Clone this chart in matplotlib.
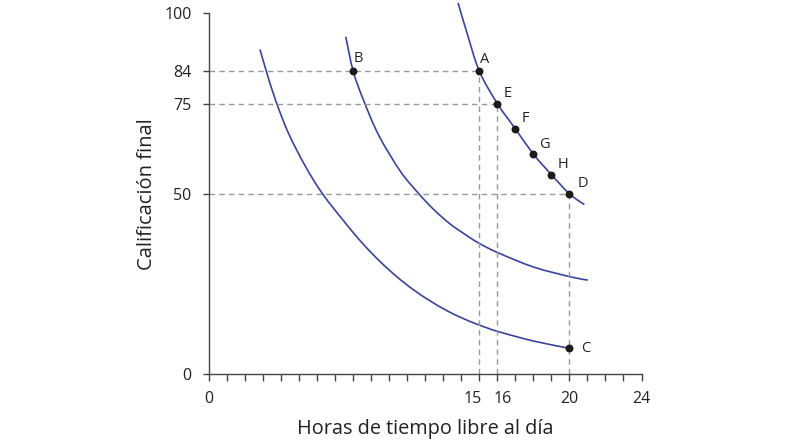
import matplotlib.pyplot as plt
from matplotlib.path import Path
from matplotlib.patches import PathPatch
import matplotlib.transforms as mtransforms

# curvas de indiferencia
curva_baja_x = [2.83, 3.18, 3.71, 4.41, 5.33, 6.30, 7.65, 8.57, 9.50, 10.43, 11.35,
                12.28, 13.21, 14.13, 15.02, 16.07, 18.02, 20.0]
curva_baja_y = [90.0, 84.0, 75.7, 66.8, 57.8, 50.0, 41.4, 36.0, 31.2, 27.0, 23.4,
                20.3, 17.6, 15.4, 13.6, 11.8, 9.2, 7.2]

curva_media_x = [7.59, 8.0, 8.57, 9.41, 10.61, 11.63, 12.46, 13.39, 14.32, 15.02, 16.07, 18.02, 20.06, 21.02]
curva_media_y = [93.5, 84.0, 76.0, 66.3, 56.3, 50.1, 45.7, 41.6, 38.4, 36.2, 33.6, 29.7, 27.0, 26.1]

curva_alta_x = [13.82, 14.32, 15, 16, 17, 18, 19, 20, 20.83]
curva_alta_y = [102.9, 94.5, 84, 75, 68, 61, 55.3, 50, 47.0]

# puntos marcados
puntos = ['A', 'E', 'F', 'G', 'H', 'D', 'B', 'C']
puntos_x = [15, 16, 17, 18, 19, 20, 8, 20]
puntos_y = [84, 75, 68, 61, 55.3, 50, 84, 7.2]
desplaz = [(5, 12), (10, 10), (10, 10), (11, 10), (12, 10), (13, 10), (5, 13), (16, 0)]

# líneas de referencia
ref_x = [15, 16, 20]
ref_y = [84, 75, 50]

xticks = [0, 15, 16, 20, 24]
yticks = [0, 50, 75, 84, 100]


def trazo_suave(xs, ys):
    # curva de Bézier que pasa por los puntos (Catmull-Rom)
    p = list(zip(xs, ys))
    verts = [p[0]]
    codes = [Path.MOVETO]
    for i in range(len(p) - 1):
        p0 = p[i - 1] if i > 0 else p[i]
        p1 = p[i]
        p2 = p[i + 1]
        p3 = p[i + 2] if i + 2 < len(p) else p[i + 1]
        c1 = (p1[0] + (p2[0] - p0[0]) / 6, p1[1] + (p2[1] - p0[1]) / 6)
        c2 = (p2[0] - (p3[0] - p1[0]) / 6, p2[1] - (p3[1] - p1[1]) / 6)
        verts += [c1, c2, p2]
        codes += [Path.CURVE4] * 3
    return Path(verts, codes)


plt.rcParams['font.family'] = ['Open Sans', 'DejaVu Sans']

fig = plt.figure(figsize=(8.1, 4.44), dpi=100)
ax = fig.add_axes([0.258, 0.157, 0.534, 0.813])

azul = '#3a449c'
gris = '#9a9a9a'

for xr, yr in zip(ref_x, ref_y):
    ax.plot([0, xr], [yr, yr], color=gris, lw=1, ls=(0, (4, 3)))
    ax.plot([xr, xr], [0, yr], color=gris, lw=1, ls=(0, (4, 3)))

for cx, cy in [(curva_baja_x, curva_baja_y), (curva_media_x, curva_media_y), (curva_alta_x, curva_alta_y)]:
    ax.add_patch(PathPatch(trazo_suave(cx, cy), facecolor='none', edgecolor=azul,
                           lw=1.2, clip_on=False, capstyle='butt'))

ax.scatter(puntos_x, puntos_y, s=22, color='#1a1a1a', zorder=5, clip_on=False)
for nombre, px, py, d in zip(puntos, puntos_x, puntos_y, desplaz):
    ax.annotate(nombre, (px, py), xytext=d, textcoords='offset pixels',
                ha='center', va='center', fontsize=10.5, color='#222222')

ax.set_xlim(0, 24)
ax.set_ylim(0, 100)
ax.set_xticks(range(0, 25))
ax.set_xticklabels([str(t) if t in xticks else '' for t in range(0, 25)])
ax.set_yticks(yticks)
ax.set_yticklabels([str(t) for t in yticks])

for lado in ['top', 'right']:
    ax.spines[lado].set_visible(False)
for lado in ['left', 'bottom']:
    ax.spines[lado].set_color('#444444')
    ax.spines[lado].set_linewidth(1)

ax.tick_params(axis='x', direction='out', length=5, width=1, color='#444444', pad=7, labelsize=11.5, labelcolor='#222222')
ax.tick_params(axis='y', direction='out', length=4.5, width=1, color='#444444', pad=8, labelsize=11.5, labelcolor='#222222')

# separar las etiquetas 15 y 16
etiquetas = ax.get_xticklabels()
for t, dx in [(15, -7), (16, 5.5)]:
    lab = etiquetas[t]
    lab.set_transform(lab.get_transform() + mtransforms.ScaledTranslation(dx / 100, 0, fig.dpi_scale_trans))

ax.set_xlabel('Horas de tiempo libre al día', fontsize=14.3, color='#222222', labelpad=9)
ax.set_ylabel('Calificación final', fontsize=14.5, color='#222222', labelpad=5)

fig.savefig('out.png', dpi=100)
